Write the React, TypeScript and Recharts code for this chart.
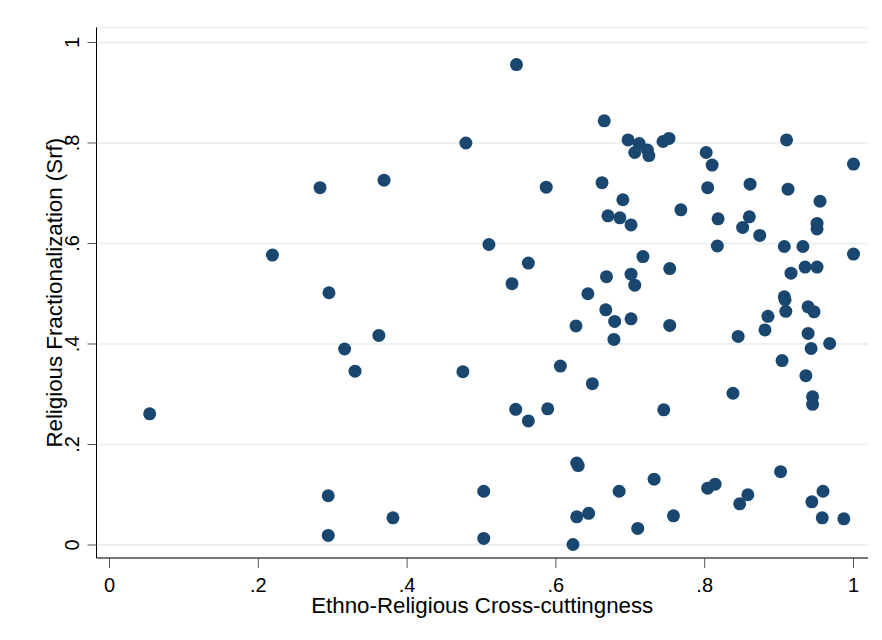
import { ScatterChart, Scatter, XAxis, YAxis, CartesianGrid } from 'recharts';

// ethno-religious cross-cuttingness per country
const crossCutting = [
  0.054, 0.219, 0.283, 0.369, 0.295, 0.547, 0.479, 0.665, 0.697, 0.712,
  0.706, 0.723, 0.725, 0.744, 0.752, 0.910, 0.802, 0.810, 1.000, 0.587,
  0.662, 0.804, 0.861, 0.912, 0.955, 0.690, 0.768, 0.670, 0.686, 0.818,
  0.860, 0.701, 0.851, 0.874, 0.951, 0.951, 0.510, 0.817, 0.907, 0.932,
  1.000, 0.563, 0.717, 0.753, 0.935, 0.951, 0.541, 0.668, 0.701, 0.706,
  0.916, 0.643, 0.907, 0.908, 0.909, 0.939, 0.947, 0.885, 0.881, 0.939,
  0.845, 0.968, 0.943, 0.904, 0.936, 0.838, 0.945, 0.945, 0.745, 0.753,
  0.667, 0.679, 0.627, 0.701, 0.678, 0.606, 0.475, 0.649, 0.546, 0.563,
  0.589, 0.628, 0.630, 0.503, 0.685, 0.381, 0.628, 0.644, 0.710, 0.503,
  0.623, 0.362, 0.316, 0.330, 0.294, 0.294, 0.902, 0.732, 0.804, 0.814,
  0.858, 0.847, 0.959, 0.944, 0.958, 0.987, 0.758,
];

// religious fractionalization (Srf), same order
const religiousFrac = [
  0.261, 0.577, 0.711, 0.726, 0.502, 0.956, 0.800, 0.844, 0.806, 0.799,
  0.781, 0.786, 0.775, 0.803, 0.809, 0.806, 0.781, 0.756, 0.758, 0.712,
  0.721, 0.711, 0.718, 0.708, 0.684, 0.687, 0.667, 0.655, 0.651, 0.649,
  0.653, 0.637, 0.632, 0.616, 0.640, 0.629, 0.598, 0.595, 0.594, 0.594,
  0.579, 0.561, 0.574, 0.550, 0.553, 0.553, 0.520, 0.534, 0.539, 0.517,
  0.541, 0.500, 0.494, 0.488, 0.465, 0.474, 0.464, 0.455, 0.428, 0.421,
  0.415, 0.401, 0.391, 0.367, 0.337, 0.302, 0.295, 0.280, 0.269, 0.437,
  0.468, 0.445, 0.436, 0.450, 0.409, 0.356, 0.345, 0.321, 0.270, 0.247,
  0.271, 0.163, 0.158, 0.107, 0.107, 0.054, 0.056, 0.063, 0.033, 0.013,
  0.001, 0.417, 0.390, 0.346, 0.098, 0.019, 0.146, 0.131, 0.113, 0.121,
  0.100, 0.082, 0.107, 0.086, 0.054, 0.052, 0.058,
];

const xTicks = [0, 0.2, 0.4, 0.6, 0.8, 1];
const yTicks = [0, 0.2, 0.4, 0.6, 0.8, 1];

const points = crossCutting.map((x, i) => ({ x, y: religiousFrac[i] }));

const FONT = '"Liberation Sans", Arial, Helvetica, sans-serif';
const NAVY = '#1a476f';

// Stata-style tick labels: ".2" instead of "0.2"
const fmt = (v: number) => (v === 0 || v === 1 ? String(v) : String(v).replace(/^0/, ''));

const XTick = (props: any) => {
  const { x, y, payload } = props;
  return (
    <text x={x} y={y + 24} textAnchor="middle" fontFamily={FONT} fontSize={20} fill="#000">
      {fmt(payload.value)}
    </text>
  );
};

const YTick = (props: any) => {
  const { x, y, payload } = props;
  const bx = x - 8.5;
  return (
    <text
      x={bx}
      y={y}
      transform={`rotate(-90, ${bx}, ${y})`}
      textAnchor="middle"
      fontFamily={FONT}
      fontSize={20}
      fill="#000"
    >
      {fmt(payload.value)}
    </text>
  );
};

const XTitle = (props: any) => {
  const { viewBox } = props;
  const cx = viewBox.x + viewBox.width / 2;
  return (
    <text x={cx} y={viewBox.y + 54.5} textAnchor="middle" fontFamily={FONT} fontSize={22.3} fill="#000">
      Ethno-Religious Cross-cuttingness
    </text>
  );
};

const YTitle = (props: any) => {
  const { viewBox } = props;
  const cx = 54.5;
  const cy = viewBox.y + viewBox.height / 2;
  return (
    <text
      x={cx}
      y={cy}
      transform={`rotate(-90, ${cx}, ${cy})`}
      textAnchor="middle"
      fontFamily={FONT}
      fontSize={22.3}
      fill="#000"
    >
      Religious Fractionalization (Srf)
    </text>
  );
};

const Dot = (props: any) => <circle cx={props.cx} cy={props.cy} r={6.5} fill={NAVY} />;

export default function App() {
  return (
    <div style={{ width: 866, height: 624, background: '#fff' }}>
      <ScatterChart width={866} height={624} margin={{ top: 19.4, right: 6, bottom: 0, left: 0 }}>
        <CartesianGrid vertical={false} stroke="#eaf2f3" strokeWidth={2} />
        <XAxis
          type="number"
          dataKey="x"
          domain={[-0.01747, 1.01949]}
          ticks={xTicks}
          interval={0}
          height={74}
          tickSize={10}
          tickMargin={0}
          axisLine={{ stroke: '#000', strokeWidth: 1 }}
          tickLine={{ stroke: '#555', strokeWidth: 1 }}
          tick={<XTick />}
          label={<XTitle />}
        />
        <YAxis
          type="number"
          dataKey="y"
          domain={[-0.02587, 1.03]}
          ticks={yTicks}
          interval={0}
          width={88.5}
          tickSize={9}
          tickMargin={0}
          axisLine={{ stroke: '#000', strokeWidth: 1 }}
          tickLine={{ stroke: '#555', strokeWidth: 1 }}
          tick={<YTick />}
          label={<YTitle />}
        />
        <Scatter data={points} shape={<Dot />} isAnimationActive={false} />
      </ScatterChart>
    </div>
  );
}
